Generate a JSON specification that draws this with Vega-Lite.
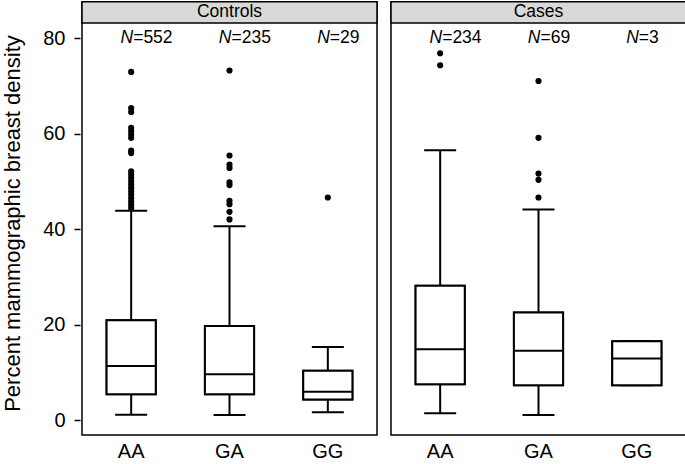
{
  "$schema": "https://vega.github.io/schema/vega-lite/v6.json",
  "padding": {"left": 0, "top": 0, "right": 0, "bottom": 0},
  "config": {
    "font": "Liberation Sans",
    "view": {"stroke": "black", "strokeWidth": 1.5},
    "axis": {"labelColor": "black", "titleColor": "black", "grid": false, "domain": false}
  },
  "data": {
    "values": [
      {"kind": "box", "group": "Controls", "genotype": "AA", "lo": 1.1, "q1": 5.4, "med": 11.3, "q3": 20.9, "hi": 43.8, "nlab": "=552"},
      {"kind": "box", "group": "Controls", "genotype": "GA", "lo": 1.05, "q1": 5.4, "med": 9.6, "q3": 19.7, "hi": 40.6, "nlab": "=235"},
      {"kind": "box", "group": "Controls", "genotype": "GG", "lo": 1.6, "q1": 4.3, "med": 5.9, "q3": 10.3, "hi": 15.3, "nlab": "=29"},
      {"kind": "box", "group": "Cases", "genotype": "AA", "lo": 1.4, "q1": 7.5, "med": 14.8, "q3": 28.1, "hi": 56.5, "nlab": "=234"},
      {"kind": "box", "group": "Cases", "genotype": "GA", "lo": 1.05, "q1": 7.3, "med": 14.5, "q3": 22.5, "hi": 44.1, "nlab": "=69"},
      {"kind": "box", "group": "Cases", "genotype": "GG", "lo": 7.3, "q1": 7.3, "med": 12.9, "q3": 16.5, "hi": 16.5, "nlab": "=3"},
      {"kind": "out", "group": "Controls", "genotype": "AA", "value": 72.9},
      {"kind": "out", "group": "Controls", "genotype": "AA", "value": 65.3},
      {"kind": "out", "group": "Controls", "genotype": "AA", "value": 64.5},
      {"kind": "out", "group": "Controls", "genotype": "AA", "value": 61.2},
      {"kind": "out", "group": "Controls", "genotype": "AA", "value": 60.5},
      {"kind": "out", "group": "Controls", "genotype": "AA", "value": 59.8},
      {"kind": "out", "group": "Controls", "genotype": "AA", "value": 59.1},
      {"kind": "out", "group": "Controls", "genotype": "AA", "value": 56.4},
      {"kind": "out", "group": "Controls", "genotype": "AA", "value": 55.9},
      {"kind": "out", "group": "Controls", "genotype": "AA", "value": 52.1},
      {"kind": "out", "group": "Controls", "genotype": "AA", "value": 51.4},
      {"kind": "out", "group": "Controls", "genotype": "AA", "value": 50.7},
      {"kind": "out", "group": "Controls", "genotype": "AA", "value": 50.0},
      {"kind": "out", "group": "Controls", "genotype": "AA", "value": 49.3},
      {"kind": "out", "group": "Controls", "genotype": "AA", "value": 48.6},
      {"kind": "out", "group": "Controls", "genotype": "AA", "value": 47.9},
      {"kind": "out", "group": "Controls", "genotype": "AA", "value": 47.2},
      {"kind": "out", "group": "Controls", "genotype": "AA", "value": 46.5},
      {"kind": "out", "group": "Controls", "genotype": "AA", "value": 45.8},
      {"kind": "out", "group": "Controls", "genotype": "AA", "value": 45.1},
      {"kind": "out", "group": "Controls", "genotype": "AA", "value": 44.4},
      {"kind": "out", "group": "Controls", "genotype": "GA", "value": 73.2},
      {"kind": "out", "group": "Controls", "genotype": "GA", "value": 55.4},
      {"kind": "out", "group": "Controls", "genotype": "GA", "value": 53.5},
      {"kind": "out", "group": "Controls", "genotype": "GA", "value": 52.8},
      {"kind": "out", "group": "Controls", "genotype": "GA", "value": 49.8},
      {"kind": "out", "group": "Controls", "genotype": "GA", "value": 49.2},
      {"kind": "out", "group": "Controls", "genotype": "GA", "value": 45.9},
      {"kind": "out", "group": "Controls", "genotype": "GA", "value": 45.2},
      {"kind": "out", "group": "Controls", "genotype": "GA", "value": 43.6},
      {"kind": "out", "group": "Controls", "genotype": "GA", "value": 42.0},
      {"kind": "out", "group": "Controls", "genotype": "GG", "value": 46.6},
      {"kind": "out", "group": "Cases", "genotype": "AA", "value": 76.8},
      {"kind": "out", "group": "Cases", "genotype": "AA", "value": 74.3},
      {"kind": "out", "group": "Cases", "genotype": "GA", "value": 71.0},
      {"kind": "out", "group": "Cases", "genotype": "GA", "value": 59.1},
      {"kind": "out", "group": "Cases", "genotype": "GA", "value": 51.6},
      {"kind": "out", "group": "Cases", "genotype": "GA", "value": 50.3},
      {"kind": "out", "group": "Cases", "genotype": "GA", "value": 46.6}
    ]
  },
  "facet": {"column": {"field": "group", "type": "nominal", "sort": ["Controls", "Cases"], "header": null}},
  "spacing": 10,
  "spec": {
    "width": 295,
    "height": 433,
    "layer": [
      {
        "transform": [{"filter": "datum.kind == 'box'"}],
        "mark": {"type": "bar", "fill": "white", "stroke": "black", "strokeWidth": 2, "width": {"band": 0.5}},
        "encoding": {
          "x": {
            "field": "genotype", "type": "nominal",
            "scale": {"domain": ["AA", "GA", "GG"], "paddingInner": 0, "paddingOuter": 0},
            "axis": {"title": null, "ticks": false, "labelAngle": 0, "labelFontSize": 20, "labelPadding": 5}
          },
          "y": {
            "field": "q1", "type": "quantitative",
            "scale": {"domain": [-3.14, 87.54], "nice": false, "zero": false},
            "axis": {
              "values": [0, 20, 40, 60, 80],
              "title": "Percent mammographic breast density",
              "titleFontSize": 22, "titleFontWeight": "normal",
              "titleX": -68, "titleY": 221, "titleAngle": -90,
              "titleAlign": "center", "titleBaseline": "middle",
              "labelFontSize": 20, "tickSize": 6, "tickWidth": 1.5, "tickColor": "black",
              "labelPadding": 9
            }
          },
          "y2": {"field": "q3"}
        }
      },
      {
        "transform": [{"filter": "datum.kind == 'box' && datum.genotype == 'GA'"}],
        "mark": {"type": "rect", "fill": "#d9d9d9", "stroke": "black", "strokeWidth": 1.5},
        "encoding": {
          "y": {"datum": 83.14, "type": "quantitative"},
          "y2": {"datum": 87.6}
        }
      },
      {
        "transform": [{"filter": "datum.kind == 'box' && datum.genotype == 'GA'"}],
        "mark": {"type": "text", "fontSize": 17.5, "color": "black", "baseline": "middle", "align": "center"},
        "encoding": {
          "x": {"datum": "GA", "type": "nominal"},
          "y": {"datum": 85.35, "type": "quantitative"},
          "text": {"field": "group"}
        }
      },
      {
        "transform": [{"filter": "datum.kind == 'box'"}],
        "mark": {"type": "rule", "color": "black", "strokeWidth": 2},
        "encoding": {
          "x": {"field": "genotype", "type": "nominal"},
          "y": {"field": "lo", "type": "quantitative"},
          "y2": {"field": "q1"}
        }
      },
      {
        "transform": [{"filter": "datum.kind == 'box'"}],
        "mark": {"type": "rule", "color": "black", "strokeWidth": 2},
        "encoding": {
          "x": {"field": "genotype", "type": "nominal"},
          "y": {"field": "q3", "type": "quantitative"},
          "y2": {"field": "hi"}
        }
      },
      {
        "transform": [{"filter": "datum.kind == 'box'"}],
        "mark": {"type": "tick", "orient": "horizontal", "color": "black", "size": 32, "thickness": 2, "opacity": 1},
        "encoding": {
          "x": {"field": "genotype", "type": "nominal"},
          "y": {"field": "lo", "type": "quantitative"}
        }
      },
      {
        "transform": [{"filter": "datum.kind == 'box'"}],
        "mark": {"type": "tick", "orient": "horizontal", "color": "black", "size": 32, "thickness": 2, "opacity": 1},
        "encoding": {
          "x": {"field": "genotype", "type": "nominal"},
          "y": {"field": "hi", "type": "quantitative"}
        }
      },
      {
        "transform": [{"filter": "datum.kind == 'box'"}],
        "mark": {"type": "bar", "fill": "white", "stroke": "black", "strokeWidth": 2, "width": {"band": 0.5}},
        "encoding": {
          "x": {"field": "genotype", "type": "nominal"},
          "y": {"field": "q1", "type": "quantitative"},
          "y2": {"field": "q3"}
        }
      },
      {
        "transform": [{"filter": "datum.kind == 'box'"}],
        "mark": {"type": "tick", "orient": "horizontal", "color": "black", "size": 49, "thickness": 2, "opacity": 1},
        "encoding": {
          "x": {"field": "genotype", "type": "nominal"},
          "y": {"field": "med", "type": "quantitative"}
        }
      },
      {
        "transform": [{"filter": "datum.kind == 'out'"}],
        "mark": {"type": "point", "filled": true, "color": "black", "size": 38, "opacity": 1},
        "encoding": {
          "x": {"field": "genotype", "type": "nominal"},
          "y": {"field": "value", "type": "quantitative"}
        }
      },
      {
        "transform": [{"filter": "datum.kind == 'box'"}],
        "mark": {"type": "text", "text": "N", "fontStyle": "italic", "fontSize": 17.5, "color": "black", "align": "right", "baseline": "middle", "dx": 2},
        "encoding": {
          "x": {"field": "genotype", "type": "nominal"},
          "y": {"datum": 80, "type": "quantitative"}
        }
      },
      {
        "transform": [{"filter": "datum.kind == 'box'"}],
        "mark": {"type": "text", "fontSize": 17.5, "color": "black", "align": "left", "baseline": "middle", "dx": 2},
        "encoding": {
          "x": {"field": "genotype", "type": "nominal"},
          "y": {"datum": 80, "type": "quantitative"},
          "text": {"field": "nlab"}
        }
      }
    ]
  }
}
